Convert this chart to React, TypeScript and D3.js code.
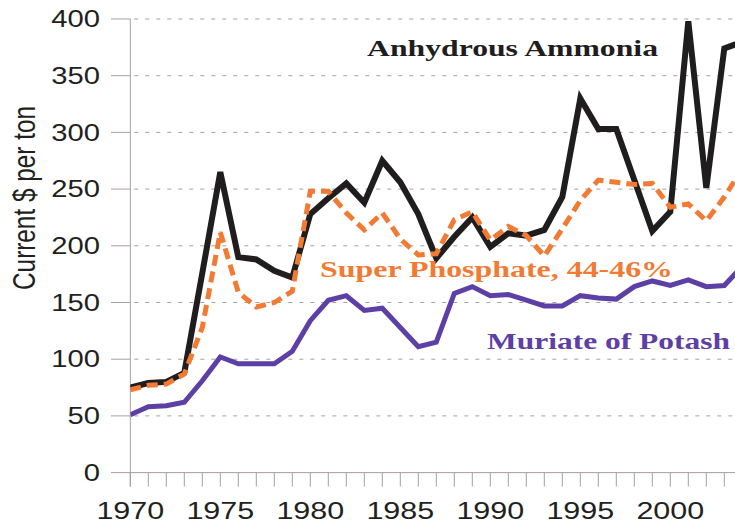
import React from 'react';
import * as d3 from 'd3';

const years = d3.range(1970, 2005);

const ammonia = [75, 79, 80, 88, 176, 265, 190, 188, 178, 172, 228, 242, 255, 238, 275, 256, 228, 189, 208, 225, 199, 211, 209, 214, 243, 330, 303, 303, 258, 213, 230, 398, 251, 374, 380];
const phosphate = [73, 77, 78, 87, 128, 212, 159, 146, 150, 160, 248, 248, 229, 214, 229, 206, 192, 193, 223, 230, 205, 217, 209, 191, 215, 240, 258, 256, 254, 255, 234, 237, 222, 243, 268];
const potash = [51, 58, 59, 62, 81, 102, 96, 96, 96, 107, 134, 152, 156, 143, 145, 128, 111, 115, 158, 164, 156, 157, 152, 147, 147, 156, 154, 153, 164, 169, 165, 170, 164, 165, 182];

const yTicks = [0, 50, 100, 150, 200, 250, 300, 350, 400];
const xLabels = [1970, 1975, 1980, 1985, 1990, 1995, 2000];

const W = 735;
const H = 527;
const SX = 1.27; // the picture is stretched sideways

const App = () => {
  const x = d3.scaleLinear().domain([1970, 1971]).range([130.3, 148.3]);
  const y = d3.scaleLinear().domain([0, 400]).range([472.6, 19]);

  const line = d3.line<number>()
    .x((d, i) => x(years[i]))
    .y(d => y(d));

  const series = [
    { values: potash, color: '#5d40a6', width: 5, dash: null },
    { values: ammonia, color: '#1f1d1d', width: 6, dash: null },
    { values: phosphate, color: '#f27b34', width: 5, dash: '11,6' },
  ];

  return (
    <div style={{ position: 'fixed', left: 0, top: 0 }}>
      <svg width={W} height={H} style={{ display: 'block', background: '#fff' }}>
        <defs>
          <clipPath id="plot">
            <rect x={x(1970)} y={0} width={W} height={y(0) + 2} />
          </clipPath>
        </defs>

        {/* grid */}
        {yTicks.filter(t => t > 0).map(t => (
          <g key={t}>
            <line x1={111} x2={x(1970)} y1={y(t)} y2={y(t)} stroke="#a89f9f" strokeWidth={1} />
            <line x1={x(1970) + 4} x2={W} y1={y(t)} y2={y(t)} stroke="#a89f9f" strokeWidth={1} strokeDasharray="4,7" />
          </g>
        ))}
        <line x1={111} x2={W} y1={y(0)} y2={y(0)} stroke="#a89f9f" strokeWidth={1} />
        <line x1={x(1970)} x2={x(1970)} y1={y(400)} y2={y(0) + 14} stroke="#a89f9f" strokeWidth={1} />
        {years.map(yr => (
          <line key={yr} x1={x(yr)} x2={x(yr)} y1={y(0)} y2={y(0) + 14} stroke="#a89f9f" strokeWidth={1} />
        ))}

        {/* y tick labels */}
        {yTicks.map(t => (
          <g key={t} transform={`translate(100,${y(t)}) scale(${SX},1)`}>
            <text x={0} y={0} dy="0.36em" textAnchor="end" fontFamily="'Liberation Sans', Arial, sans-serif" fontSize={23} fill="#231f20">{t}</text>
          </g>
        ))}

        {/* x tick labels */}
        {xLabels.map(t => (
          <g key={t} transform={`translate(${x(t)},519) scale(${SX},1)`}>
            <text x={0} y={0} textAnchor="middle" fontFamily="'Liberation Sans', Arial, sans-serif" fontSize={24} fill="#231f20">{t}</text>
          </g>
        ))}

        {/* y axis title */}
        <g transform={`translate(35,198) rotate(-90) scale(1,${SX})`}>
          <text x={0} y={0} textAnchor="middle" textLength={184} lengthAdjust="spacingAndGlyphs" fontFamily="'Liberation Sans', Arial, sans-serif" fontSize={24} fill="#231f20">Current $ per ton</text>
        </g>

        {/* lines */}
        <g clipPath="url(#plot)">
          {series.map((s, i) => (
            <path key={i} d={line(s.values) || ''} fill="none" stroke={s.color} strokeWidth={s.width}
              strokeDasharray={s.dash || undefined} strokeLinejoin="miter" strokeMiterlimit={3} />
          ))}
        </g>

        {/* series labels */}
        <text x={367} y={56} textLength={291} lengthAdjust="spacingAndGlyphs" fontFamily="'Liberation Serif', 'Times New Roman', serif" fontWeight="bold" fontSize={24} fill="#1f1d1d">Anhydrous Ammonia</text>
        <text x={320} y={277} textLength={353} lengthAdjust="spacingAndGlyphs" fontFamily="'Liberation Serif', 'Times New Roman', serif" fontWeight="bold" fontSize={23} fill="#f27b34">Super Phosphate, 44-46%</text>
        <text x={487} y={349} textLength={243} lengthAdjust="spacingAndGlyphs" fontFamily="'Liberation Serif', 'Times New Roman', serif" fontWeight="bold" fontSize={23} fill="#5d40a6">Muriate of Potash</text>
      </svg>
    </div>
  );
};

export default App;
